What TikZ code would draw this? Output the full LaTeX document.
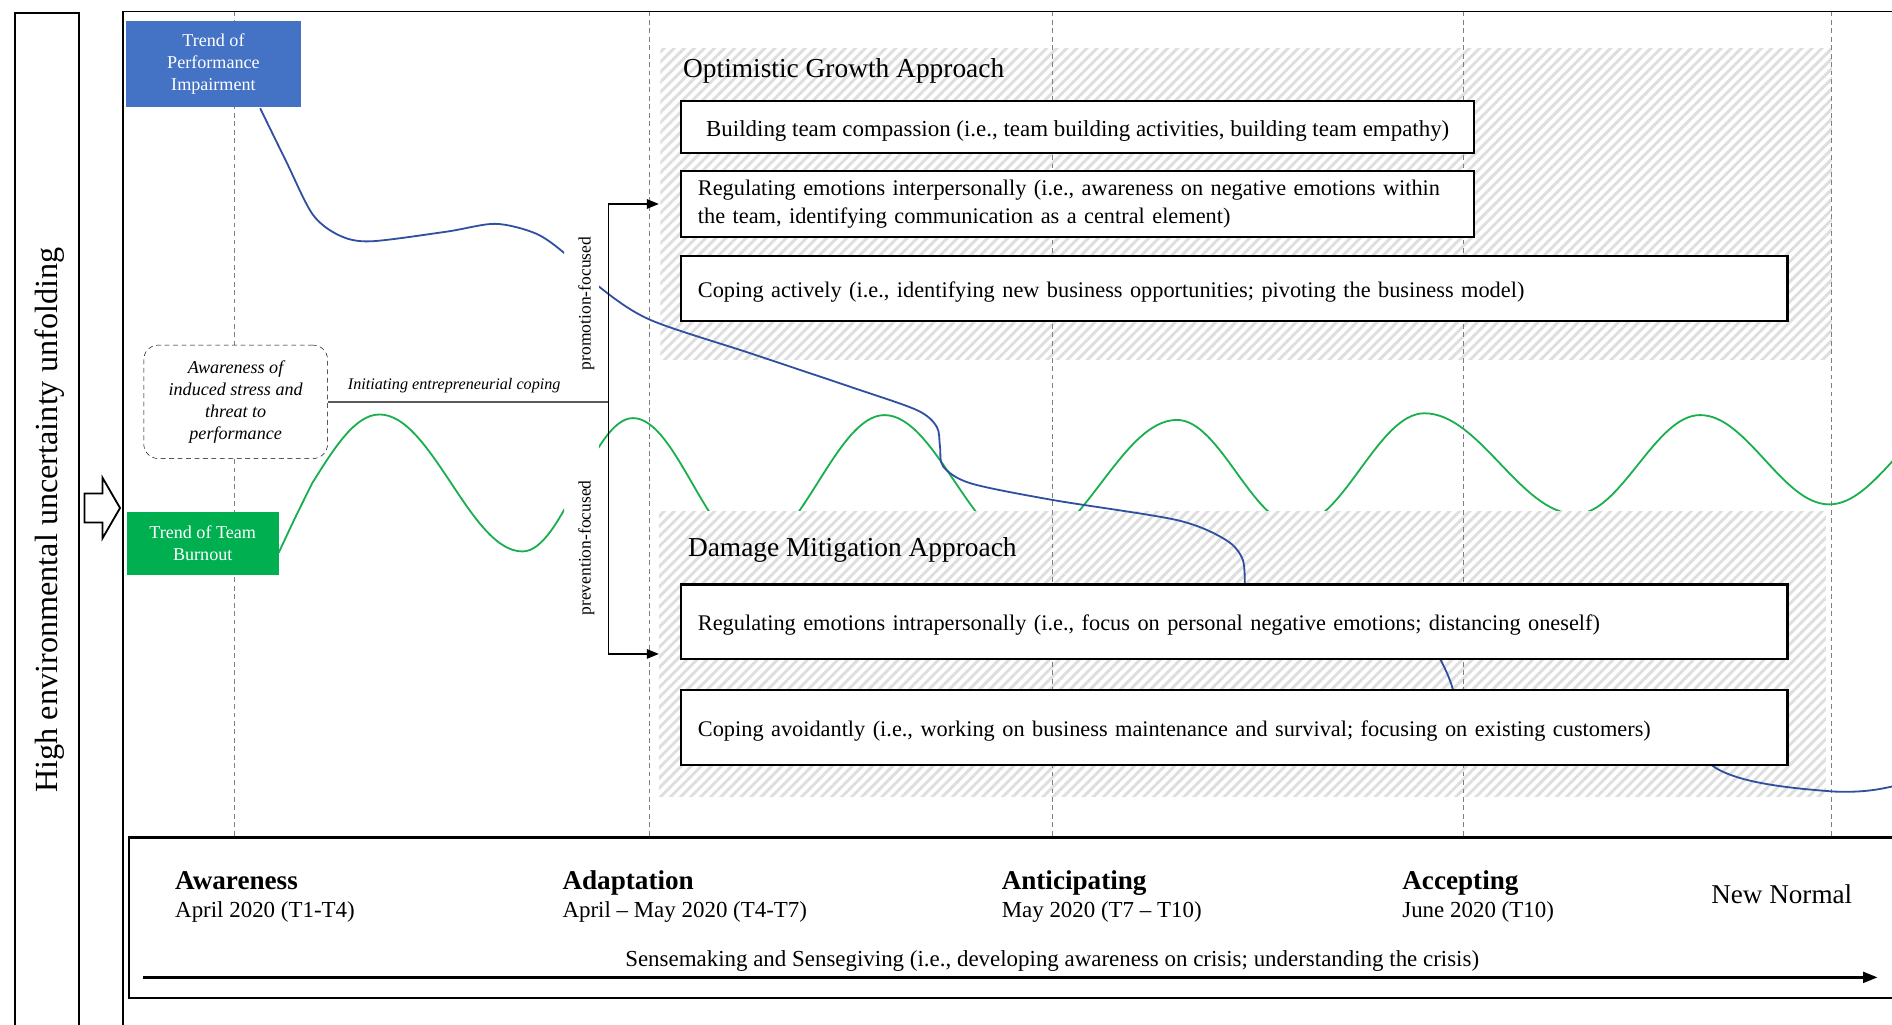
\documentclass[tikz,border=0pt]{standalone}
\usepackage{fontspec}
\setmainfont{Liberation Serif}
\usetikzlibrary{arrows.meta, patterns.meta}

\definecolor{perfblue}{HTML}{4472C4}
\definecolor{burnoutgreen}{HTML}{00B050}
\definecolor{perfline}{HTML}{2F4F9F}
\definecolor{burnoutline}{HTML}{19AF4D}

\begin{document}
\begin{tikzpicture}[x = 1pt, y = -1pt,
	approach/.style = {draw, line width = 1.8pt, fill = white, anchor = north west, inner xsep = 14pt, inner ysep = 2pt, align = left, font = \fontsize{18.5}{23}\selectfont},
	oneline/.style = {text height = 15pt, text depth = 0pt},
	region/.style = {anchor = north west, inner sep = 0pt, preaction = {fill = white}, pattern = {Lines[angle = 45, distance = 5.9pt, line width = 2.4pt]}, pattern color = black!13},
	trend/.style = {text = white, align = center, inner sep = 0pt, font = \fontsize{15}{18}\selectfont},
	phaseline/.style = {gray, line width = 0.8pt, dash pattern = on 4pt off 3pt},
	phase/.style = {anchor = base west, inner sep = 0pt, font = \bfseries\fontsize{22.5}{26}\selectfont},
	date/.style = {anchor = base west, inner sep = 0pt, font = \fontsize{19}{23}\selectfont},
	focus/.style = {rotate = 90, font = \fontsize{14.5}{16}\selectfont}
]
	%	canvas
	\useasboundingbox (0, 0) rectangle (1568, 849);
	\clip (0, 0) rectangle (1568, 849);
	
	%	trend of team burnout, left and right of the focus labels (troughs run under the hatching)
	\foreach \xa/\xb in {0/467.5, 496.5/1600}{
		\begin{scope}
			\clip (\xa, 0) rectangle (\xb, 849);
			\draw[burnoutline, line width = 1.5pt] (231, 458) .. controls (245, 428) .. (259, 400) sin (314.5, 343.5) cos (373.75, 400.25) sin (433, 457) cos (478.8, 401.75) sin (524.6, 346.5) cos (573.8, 400.75) sin (623, 455) cos (678, 399.5) sin (733, 344) cos (791, 398.75) sin (849, 453.5) cos (912.15, 400.75) sin (975.3, 348) cos (1024.65, 391.5) sin (1074, 435) cos (1127.25, 388.75) sin (1180.5, 342.5) cos (1243.25, 384.25) sin (1306, 426) cos (1357.5, 385) sin (1409, 344) cos (1462.5, 381) sin (1516, 418) cos (1569.5, 381) sin (1623, 344);
		\end{scope}
	}
	
	%	approaches
	\node[region, minimum width = 971pt, minimum height = 258.3pt] (growth) at (546, 38.7) {};
	\node[region, minimum width = 967pt, minimum height = 236.5pt] (mitigation) at (546, 423.5) {};
	
	%	phases
	\foreach \x in {194, 538, 872, 1212.5, 1517.5}
		\draw[phaseline] (\x, 9.5) -- (\x, 694);
	
	%	trend of performance impairment
	\foreach \xa/\xb in {0/467.5, 496.5/1600}{
		\begin{scope}
			\clip (\xa, 0) rectangle (\xb, 849);
			\draw[perfline, line width = 1.5pt] plot[smooth] coordinates {(215.6, 89.7) (236.8, 133) (259, 177.5) (281, 195) (307, 200) (370, 192) (410.6, 185.5) (444, 193.5) (468, 210) (497, 238) (538.7, 265) (621.6, 292.7) (704.5, 320.5) (759.7, 339.8) (776.3, 353.6) (779, 370) (781.8, 386.8) (804.6, 400.6) (872.7, 414.4) (975.3, 431) (1016, 447.5) (1030, 464) (1031.5, 488)};
		\end{scope}
	}
	\draw[perfline, line width = 1.5pt] (1190.5, 540) .. controls (1197, 553) and (1202, 562) .. (1205, 575);
	\draw[perfline, line width = 1.5pt] (1414, 630) .. controls (1430, 648) and (1480, 653) .. (1520, 656) .. controls (1545, 657) and (1560, 654) .. (1575, 650);
	
	%	frames
	\draw[line width = 1.5pt] (12.5, 860) -- (12.5, 11) -- (65.5, 11) -- (65.5, 860);
	\draw[line width = 1.5pt] (102, 860) -- (102, 9.5) -- (1580, 9.5);
	\node[rotate = 90, font = \fontsize{26.7}{30}\selectfont] (uncertainty) at (41, 431) {High environmental uncertainty unfolding};
	\draw[line width = 1.5pt, fill = white] (70, 409) -- (85, 409) -- (85, 396) -- (99.5, 421) -- (85, 446) -- (85, 433) -- (70, 433) -- cycle;
	
	%	trends
	\node[trend, fill = perfblue, minimum width = 144.3pt, minimum height = 71.6pt] (performance) at (176.9, 53.2) {Trend of\\Performance\\Impairment};
	\node[trend, fill = burnoutgreen, minimum width = 126.2pt, minimum height = 52.4pt] (burnout) at (168, 450.2) {Trend of Team\\Burnout};
	
	%	coping
	\node[draw, dash pattern = on 4pt off 3pt, rounded corners = 12pt, fill = white, minimum width = 152.3pt, minimum height = 94pt, align = center, font = \itshape\fontsize{15}{18.3}\selectfont] (awareness) at (195.3, 333) {Awareness of\\induced stress and\\threat to\\performance};
	\coordinate (junction) at (504.5, 333);
	\draw[black!65, line width = 1.5pt] (awareness.east) -- node[pos = 0.45, above = 3pt, text = black, font = \itshape\fontsize{13.4}{16}\selectfont]{Initiating entrepreneurial coping} (junction);
	\draw[line width = 1pt, -{Triangle[length = 10pt, width = 8pt]}] (junction) |- (growth.west);
	\draw[line width = 1pt, -{Triangle[length = 10pt, width = 8pt]}] (junction) |- (mitigation.west);
	\node[focus] (promotion) at (486, 251.5) {promotion-focused};
	\node[focus] (prevention) at (486, 454) {prevention-focused};
	
	%	optimistic growth
	\node[anchor = base west, inner sep = 0pt, font = \fontsize{22.7}{26}\selectfont] (growthtitle) at (566, 64) {Optimistic Growth Approach};
	\node[approach, oneline, align = center, font = \fontsize{19}{23}\selectfont, minimum width = 657.5pt, minimum height = 42.7pt] (compassion) at (563.5, 83) {Building team compassion (i.e., team building activities, building team empathy)};
	\node[approach, text width = 629.5pt, minimum height = 54.6pt] (interpersonal) at (563.5, 141) {\mbox{Regulating emotions interpersonally (i.e., awareness on negative emotions within}\\the team, identifying communication as a central element)};
	\node[approach, oneline, text width = 889pt, minimum height = 54pt] (active) at (563.5, 211) {Coping actively (i.e., identifying new business opportunities; pivoting the business model)};
	
	%	damage mitigation
	\node[anchor = base west, inner sep = 0pt, font = \fontsize{22.7}{26}\selectfont] (mitigationtitle) at (570, 461.5) {Damage Mitigation Approach};
	\node[approach, oneline, text width = 889pt, minimum height = 61.5pt] (intrapersonal) at (563.5, 483.5) {Regulating emotions intrapersonally (i.e., focus on personal negative emotions; distancing oneself)};
	\node[approach, oneline, text width = 889pt, minimum height = 62.4pt] (avoidant) at (563.5, 571) {Coping avoidantly (i.e., working on business maintenance and survival; focusing on existing customers)};
	
	%	timeline
	\draw[line width = 2pt, fill = white] (107, 694) rectangle (1580, 827);
	\node[phase] (awarenessphase) at (145, 737) {Awareness};
	\node[date] (awarenessdate) at (145, 760) {April 2020 (T1-T4)};
	\node[phase] (adaptation) at (466, 737) {Adaptation};
	\node[date] (adaptationdate) at (466, 760) {April – May 2020 (T4-T7)};
	\node[phase] (anticipating) at (830, 737) {Anticipating};
	\node[date] (anticipatingdate) at (830, 760) {May 2020 (T7 – T10)};
	\node[phase] (accepting) at (1162, 737) {Accepting};
	\node[date] (acceptingdate) at (1162, 760) {June 2020 (T10)};
	\node[anchor = base west, inner sep = 0pt, font = \fontsize{22.5}{26}\selectfont] (newnormal) at (1418, 748.5) {New Normal};
	\node[anchor = base, inner sep = 0pt, font = \fontsize{19}{23}\selectfont] (sensemaking) at (872, 801) {Sensemaking and Sensegiving (i.e., developing awareness on crisis; understanding the crisis)};
	\coordinate (timestart) at (118.7, 810);
	\coordinate (timeend) at (1556, 810);
	\draw[line width = 2pt, -{Triangle[length = 12pt, width = 9pt]}] (timestart) -- (timeend);
\end{tikzpicture}
\end{document}
